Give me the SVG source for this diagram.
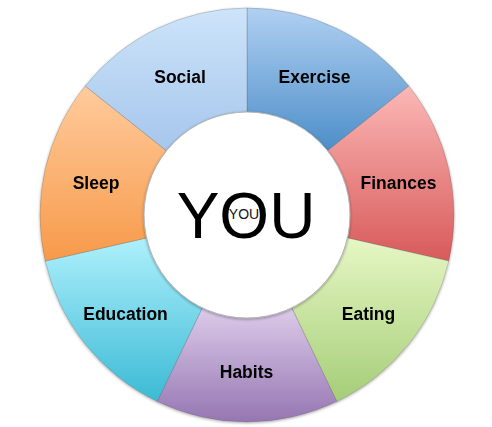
<svg xmlns="http://www.w3.org/2000/svg" width="492" height="427" viewBox="0 0 492 427">
<defs>
<linearGradient id="gSocial" x1="0" y1="0" x2="0" y2="1"><stop offset="0" stop-color="#cde4fa"/><stop offset="1" stop-color="#a6c6ec"/></linearGradient>
<linearGradient id="gExercise" x1="0" y1="0" x2="0" y2="1"><stop offset="0" stop-color="#b0d0f2"/><stop offset="1" stop-color="#4d8ec8"/></linearGradient>
<linearGradient id="gFinances" x1="0" y1="0" x2="0" y2="1"><stop offset="0" stop-color="#fbb8b6"/><stop offset="1" stop-color="#d85a5a"/></linearGradient>
<linearGradient id="gEating" x1="0" y1="0" x2="0" y2="1"><stop offset="0" stop-color="#e6f7c4"/><stop offset="1" stop-color="#a5cd78"/></linearGradient>
<linearGradient id="gHabits" x1="0" y1="0" x2="0" y2="1"><stop offset="0" stop-color="#dccbea"/><stop offset="1" stop-color="#9676b2"/></linearGradient>
<linearGradient id="gEducation" x1="0" y1="0" x2="0" y2="1"><stop offset="0" stop-color="#aef0fc"/><stop offset="1" stop-color="#3bbad5"/></linearGradient>
<linearGradient id="gSleep" x1="0" y1="0" x2="0" y2="1"><stop offset="0" stop-color="#ffcb9c"/><stop offset="1" stop-color="#f79a4a"/></linearGradient>
<filter id="sh" x="-20%" y="-20%" width="140%" height="140%"><feGaussianBlur in="SourceAlpha" stdDeviation="1.5"/><feOffset dy="1"/><feComponentTransfer><feFuncA type="linear" slope="0.35"/></feComponentTransfer><feMerge><feMergeNode/><feMergeNode in="SourceGraphic"/></feMerge></filter>
</defs>
<style>
.seg{stroke:rgba(90,90,90,0.35);stroke-width:0.8}
.lbl{font-family:"Liberation Sans",Arial,sans-serif;font-weight:bold;font-size:17.5px;fill:#000;text-anchor:middle}
.big{font-family:"Liberation Sans",Arial,sans-serif;font-size:64px;fill:#000;text-anchor:middle}
.small{font-family:"Liberation Sans",Arial,sans-serif;font-size:14px;fill:#111;text-anchor:middle}
</style>
<rect width="492" height="427" fill="#ffffff"/>
<g id="ring" filter="url(#sh)">
<g id="exercise"><path class="seg" fill="url(#gExercise)" d="M247,8 A207,207 0 0 1 408.84,85.94 L327.53,150.78 A103,103 0 0 0 247,112 Z"/><text class="lbl" x="314.5" y="83">Exercise</text></g>
<g id="finances"><path class="seg" fill="url(#gFinances)" d="M408.84,85.94 A207,207 0 0 1 448.81,261.06 L347.42,237.92 A103,103 0 0 0 327.53,150.78 Z"/><text class="lbl" x="398.5" y="188.5">Finances</text></g>
<g id="eating"><path class="seg" fill="url(#gEating)" d="M448.81,261.06 A207,207 0 0 1 336.81,401.5 L291.69,307.8 A103,103 0 0 0 347.42,237.92 Z"/><text class="lbl" x="368.5" y="320">Eating</text></g>
<g id="habits"><path class="seg" fill="url(#gHabits)" d="M336.81,401.5 A207,207 0 0 1 157.19,401.5 L202.31,307.8 A103,103 0 0 0 291.69,307.8 Z"/><text class="lbl" x="246.5" y="378">Habits</text></g>
<g id="education"><path class="seg" fill="url(#gEducation)" d="M157.19,401.5 A207,207 0 0 1 45.19,261.06 L146.58,237.92 A103,103 0 0 0 202.31,307.8 Z"/><text class="lbl" x="125.5" y="320">Education</text></g>
<g id="sleep"><path class="seg" fill="url(#gSleep)" d="M45.19,261.06 A207,207 0 0 1 85.16,85.94 L166.47,150.78 A103,103 0 0 0 146.58,237.92 Z"/><text class="lbl" x="96" y="188.5">Sleep</text></g>
<g id="social"><path class="seg" fill="url(#gSocial)" d="M85.16,85.94 A207,207 0 0 1 247,8 L247,112 A103,103 0 0 0 166.47,150.78 Z"/><text class="lbl" x="180" y="83">Social</text></g>
</g>
<g id="you">
<circle cx="247" cy="215" r="103" fill="#ffffff" stroke="#b5b5b5" stroke-width="1" filter="url(#sh)"/>
<text class="big" x="246" y="238">YOU</text>
<text class="small" x="244" y="219">YOU</text>
</g>
<g id="connectors"/>
</svg>
